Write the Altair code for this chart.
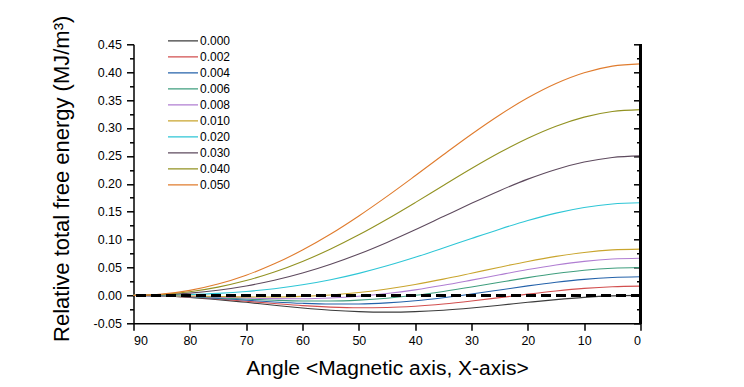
import altair as alt
import pandas as pd

# ---- data ----
angles = [90, 85, 80, 75, 70, 65, 60, 55, 50, 45, 40, 35, 30, 25, 20, 15, 10, 5, 0]

series_labels = ["0.000", "0.002", "0.004", "0.006", "0.008",
                 "0.010", "0.020", "0.030", "0.040", "0.050"]
series_colors = ["#3c3c3c", "#d24f4f", "#2462aa", "#3f9e7e", "#b07ed2",
                 "#c9a52e", "#2ec6d6", "#5e4a5e", "#929222", "#e07c2e"]

e_000 = [0, -0.0009, -0.0035, -0.0075, -0.0124, -0.0176, -0.0225, -0.0265, -0.0291, -0.0300,
         -0.0291, -0.0265, -0.0225, -0.0176, -0.0124, -0.0075, -0.0035, -0.0009, 0]
e_002 = [0, -0.0008, -0.0030, -0.0064, -0.0105, -0.0146, -0.0184, -0.0210, -0.0222, -0.0217,
         -0.0194, -0.0154, -0.0101, -0.0040, 0.0023, 0.0080, 0.0126, 0.0156, 0.0166]
e_004 = [0, -0.0007, -0.0025, -0.0053, -0.0085, -0.0117, -0.0142, -0.0155, -0.0153, -0.0134,
         -0.0096, -0.0041, 0.0025, 0.0097, 0.0170, 0.0236, 0.0288, 0.0321, 0.0333]
e_006 = [0, -0.0005, -0.0020, -0.0042, -0.0065, -0.0087, -0.0100, -0.0100, -0.0084, -0.0050,
         0.0002, 0.0071, 0.0150, 0.0235, 0.0318, 0.0392, 0.0450, 0.0487, 0.0500]
e_008 = [0, -0.0004, -0.0015, -0.0030, -0.0046, -0.0057, -0.0059, -0.0046, -0.0016, 0.0033,
         0.0099, 0.0181, 0.0274, 0.0370, 0.0463, 0.0545, 0.0610, 0.0651, 0.0665]
e_010 = [0, -0.0003, -0.0010, -0.0019, -0.0027, -0.0028, -0.0018, 0.0008, 0.0052, 0.0115,
         0.0196, 0.0292, 0.0398, 0.0506, 0.0609, 0.0699, 0.0770, 0.0815, 0.0830]
e_020 = [0, 0.0004, 0.0015, 0.0036, 0.0070, 0.0120, 0.0190, 0.0281, 0.0395, 0.0530,
         0.0683, 0.0849, 0.1020, 0.1187, 0.1342, 0.1474, 0.1575, 0.1638, 0.1660]
e_030 = [0, 0.0010, 0.0040, 0.0092, 0.0169, 0.0270, 0.0400, 0.0558, 0.0742, 0.0950,
         0.1176, 0.1413, 0.1650, 0.1877, 0.2084, 0.2258, 0.2390, 0.2472, 0.2500]
e_040 = [0, 0.0016, 0.0065, 0.0148, 0.0266, 0.0419, 0.0608, 0.0831, 0.1085, 0.1365,
         0.1663, 0.1970, 0.2273, 0.2559, 0.2816, 0.3032, 0.3195, 0.3295, 0.3330]
e_050 = [0, 0.0022, 0.0090, 0.0203, 0.0362, 0.0565, 0.0813, 0.1100, 0.1424, 0.1775,
         0.2144, 0.2520, 0.2888, 0.3233, 0.3541, 0.3797, 0.3990, 0.4109, 0.4150]

all_series = [e_000, e_002, e_004, e_006, e_008, e_010, e_020, e_030, e_040, e_050]

x_ticks = list(range(0, 91, 5))
y_ticks = [round(-0.05 + 0.025 * i, 3) for i in range(21)]

rows = []
for lab, vals in zip(series_labels, all_series):
    for a, v in zip(angles, vals):
        rows.append({"angle": a, "energy": v, "series": lab})
df = pd.DataFrame(rows)

FONT = "Liberation Sans"

x_scale = alt.Scale(domain=[0, 90], reverse=True, nice=False, zero=False)
y_scale = alt.Scale(domain=[-0.05, 0.45], nice=False, zero=False)

x_axis = alt.Axis(
    orient="bottom", values=x_ticks, grid=False,
    labelExpr="datum.value % 10 === 0 ? datum.label : ''",
    tickSize={"condition": {"test": "datum.value % 10 === 0", "value": 7}, "value": 4},
    tickColor="black", tickWidth=1.5, domainColor="black", domainWidth=1.5,
    labelFont=FONT, labelFontSize=12.5, labelColor="black", labelPadding=4,
    title="Angle <Magnetic axis, X-axis>", titleFont=FONT, titleFontSize=21,
    titleFontWeight="normal", titleColor="black",
    titleBaseline="alphabetic", titleY=51,
)

y_major_test = "abs(round(datum.value * 1000)) % 50 === 0"
y_axis = alt.Axis(
    orient="left", values=y_ticks, grid=False,
    labelExpr=y_major_test + " ? replace(format(datum.value, '.2f'), '\u2212', '-') : ''",
    tickSize={"condition": {"test": y_major_test, "value": 7}, "value": 4},
    tickColor="black", tickWidth=1.5, domainColor="black", domainWidth=1.5,
    labelFont=FONT, labelFontSize=12.5, labelColor="black", labelPadding=5,
    title="Relative total free energy (MJ/m\u00b3)", titleFont=FONT, titleFontSize=22,
    titleFontWeight="normal", titleColor="black",
    titleBaseline="alphabetic", titleX=-65, titleY=134, titleAngle=-90,
)

right_axis = alt.Axis(
    orient="right", values=y_ticks, grid=False, labels=False, domain=False,
    title=None, offset=-7, tickSize=7, tickColor="black", tickWidth=1.5,
    tickDash={"condition": {"test": y_major_test, "value": [7, 0]}, "value": [0, 3, 4, 0]},
)

lines = alt.Chart(df).mark_line(strokeWidth=1.1, interpolate="monotone").encode(
    x=alt.X("angle:Q", scale=x_scale, axis=x_axis),
    y=alt.Y("energy:Q", scale=y_scale, axis=y_axis),
    color=alt.Color(
        "series:N",
        scale=alt.Scale(domain=series_labels, range=series_colors),
        sort=series_labels,
        legend=alt.Legend(
            title=None, orient="none", legendX=33.5, legendY=-11,
            symbolType="stroke", symbolSize=900, symbolStrokeWidth=1.4,
            clipHeight=15.1, rowPadding=0, padding=0, labelOffset=1,
            labelFont=FONT, labelFontSize=12, labelColor="black",
        ),
    ),
    detail="series:N",
)

zero_line = alt.Chart(df).mark_rule(
    color="black", strokeWidth=2.5, strokeDash=[9, 6]
).encode(y=alt.YDatum(0, scale=y_scale, axis=None))

right_border = alt.Chart(df).mark_rule(color="black", strokeWidth=1.5).encode(
    x=alt.XDatum(0, scale=x_scale),
    y=alt.YDatum(-0.05, scale=y_scale, axis=right_axis),
    y2=alt.Y2Datum(0.45),
)

chart = alt.layer(lines, zero_line, right_border).resolve_axis(y="independent").properties(
    width=507, height=279,
    autosize=alt.AutoSizeParams(type="none"),
    padding={"left": 125.5, "top": 36.3, "right": 90, "bottom": 62},
    background="white",
).configure_view(stroke=None)

chart.save("out.html", embed_options={"renderer": "svg", "actions": False})
